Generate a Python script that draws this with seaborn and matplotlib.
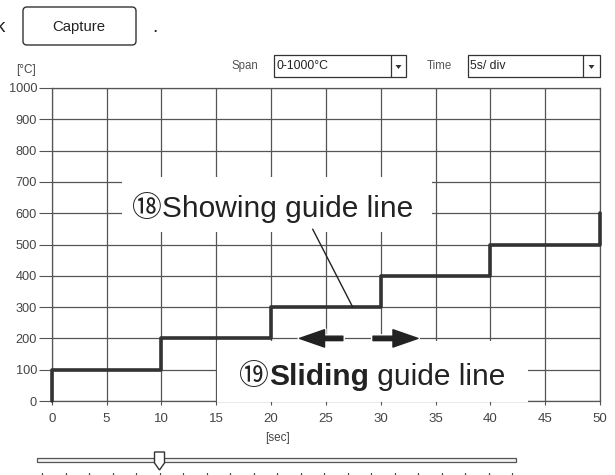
import matplotlib
matplotlib.use("Agg")
import matplotlib.pyplot as plt
from matplotlib.patches import Rectangle, FancyBboxPatch, Polygon
import matplotlib.patheffects as pe
import seaborn as sns
import numpy as np

# step profile
time_s = [0, 0, 10, 20, 30, 40, 50]
temp_c = [0, 100, 200, 300, 400, 500, 600]

x_ticks = list(range(0, 51, 5))
y_ticks = list(range(0, 1001, 100))

span_label = "0-1000°C"
time_label = "5s/ div"
slider_ticks = 21
slider_pos = 5

sns.set_theme(style="white")
plt.rcParams['font.family'] = ['Liberation Sans', 'Noto Sans CJK JP', 'DejaVu Sans']
CJK = ['Liberation Sans', 'Noto Sans CJK JP', 'DejaVu Sans']

W, H = 615, 475
fig = plt.figure(figsize=(W / 100, H / 100), dpi=100)
fig.patch.set_facecolor("white")

ax = fig.add_axes([51.7 / W, 1 - 401 / H, (600 - 51.7) / W, (401 - 88) / H])
grid_c = "#555555"
sns.lineplot(x=time_s, y=temp_c, ax=ax, drawstyle="steps-post", estimator=None,
             sort=False, color="#333333", linewidth=2.6, clip_on=False, zorder=4)
ax.set_xlim(0, 50)
ax.set_ylim(0, 1000)
ax.set_xticks(x_ticks)
ax.set_yticks(y_ticks)
ax.grid(True, color=grid_c, linewidth=0.9)
for s in ax.spines.values():
    s.set_color(grid_c)
    s.set_linewidth(0.9)
ax.tick_params(axis="y", length=9.5, width=0.8, color=grid_c, pad=1,
               labelsize=9.2, labelcolor="#444444", left=True)
ax.tick_params(axis="x", length=3, width=0.8, color=grid_c, pad=6,
               labelsize=9.5, labelcolor="#444444", bottom=True)

# white label boxes over the grid
ax.add_patch(Rectangle((6.4, 539), 28.3, 176, facecolor="white", edgecolor="none",
                       zorder=5, clip_on=False))
ax.add_patch(Rectangle((15.06, -3), 28.34, 194.5, facecolor="white", edgecolor="none",
                       zorder=5, clip_on=False))

ax.text(7.3, 587, "⑱Showing guide line", fontsize=21.5, color="#222222",
        family=CJK, ha="left", va="baseline", zorder=6)
ax.plot([23.8, 27.45], [549, 300], color="#222222", linewidth=1.0, zorder=6)

t1 = ax.text(17.1, 51, "⑲", fontsize=21.5, color="#222222", family=CJK,
             ha="left", va="baseline", zorder=6)
t2 = ax.annotate("Sliding", xy=(1, 0), xycoords=t1, ha="left", va="bottom",
                 fontsize=21.5, fontweight="bold", color="#222222", zorder=6)
ax.annotate(" guide line", xy=(1, 0), xycoords=t2, ha="left", va="bottom",
            fontsize=21.5, color="#222222", zorder=6)

# sliding arrows
arrow_style = "simple, head_length=18, head_width=12.5, tail_width=3.2"
for tail, head in [(26.55, 22.6), (29.3, 33.4)]:
    ax.annotate("", xy=(head, 200), xytext=(tail, 200),
                arrowprops=dict(arrowstyle=arrow_style, color="#222222",
                                shrinkA=0, shrinkB=0, mutation_scale=1,
                                path_effects=[pe.withStroke(linewidth=3, foreground="white")]),
                zorder=6)

# UI overlay in pixel coordinates
ui = fig.add_axes([0, 0, 1, 1], zorder=10)
ui.set_xlim(0, W)
ui.set_ylim(H, 0)
ui.axis("off")
ui.patch.set_visible(False)

ui.text(0, 27, "k", fontsize=13.5, color="#222222", ha="center", va="center")
ui.add_patch(FancyBboxPatch((23, 7), 113, 38, boxstyle="round,pad=0,rounding_size=4",
                            facecolor="white", edgecolor="#333333", linewidth=1.0))
ui.text(79, 27, "Capture", fontsize=10.7, color="#222222", ha="center", va="center")
ui.text(155, 27, ".", fontsize=14, color="#222222", ha="center", va="center")

ui.text(26, 70, "[°C]", fontsize=8.5, color="#444444", ha="center", va="center")
ui.text(277, 438, "[sec]", fontsize=8.5, color="#444444", ha="center", va="center")

ui.text(244.5, 66, "Span", fontsize=8.3, color="#555555", ha="center", va="center")
ui.text(439, 66, "Time", fontsize=8.3, color="#555555", ha="center", va="center")
for (x0, x1, xd, label) in [(274, 406, 391, span_label), (468, 600, 583, time_label)]:
    ui.add_patch(Rectangle((x0, 55), x1 - x0, 22, facecolor="white",
                           edgecolor="#333333", linewidth=0.9))
    ui.plot([xd, xd], [55, 77], color="#333333", linewidth=0.9)
    ui.text(x0 + 2.5, 66, label, fontsize=8.8, color="#222222", ha="left", va="center")
    cx = (xd + x1) / 2
    ui.add_patch(Polygon([[cx - 3, 65], [cx + 3, 65], [cx, 69]], closed=True,
                         facecolor="#333333", edgecolor="none"))

# slider
ui.add_patch(Rectangle((37, 458), 479, 3.5, facecolor="#f2f2f2", edgecolor="#555555",
                       linewidth=0.9))
tick_x = np.linspace(42, 512, slider_ticks)
for tx in tick_x:
    ui.plot([tx, tx], [473, 476], color="#444444", linewidth=0.9)
cx = tick_x[slider_pos]
ui.add_patch(Polygon([[cx - 5, 452], [cx + 5, 452], [cx + 5, 463], [cx, 470], [cx - 5, 463]],
                     closed=True, facecolor="white", edgecolor="#333333", linewidth=1.0))

fig.savefig("out.png", dpi=100, facecolor="white")
